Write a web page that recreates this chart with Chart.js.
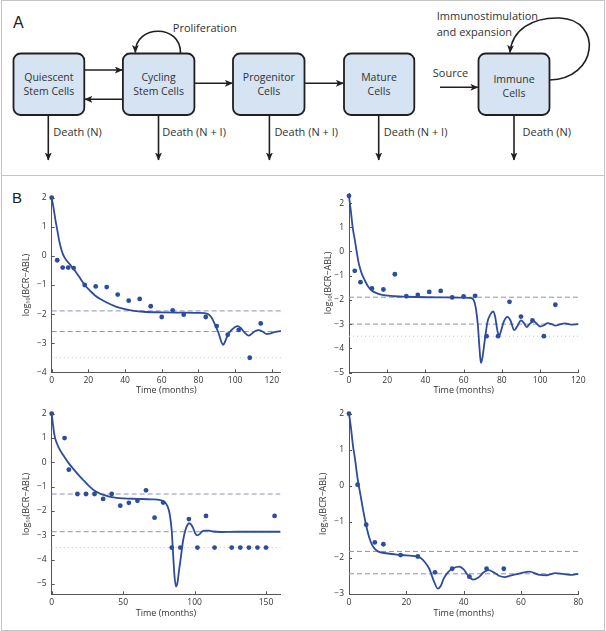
<!DOCTYPE html>
<html><head><meta charset="utf-8">
<script src="https://cdn.jsdelivr.net/npm/chart.js@4.4.1/dist/chart.umd.min.js"></script>
<style>
html,body{margin:0;padding:0;background:#fff;}
#fig{position:relative;width:606px;height:631px;overflow:hidden;background:#fff;}
svg{position:absolute;left:0;top:0;}
canvas{position:absolute;}
</style></head>
<body>
<div id="fig">
<svg width="606" height="631" font-family="'Open Sans', sans-serif">
<defs>
<marker id="ah" markerWidth="8" markerHeight="7" refX="7.5" refY="3.5" orient="auto" markerUnits="userSpaceOnUse"><path d="M0,0 L8,3.5 L0,7 L2,3.5 z" fill="#231f20"/></marker>
</defs>
<rect x="1.5" y="0.5" width="603" height="630" fill="none" stroke="#c4c4c4"/>
<line x1="1" y1="175.5" x2="605" y2="175.5" stroke="#c4c4c4"/>
<text x="13" y="28" font-family="'Liberation Sans', Arial, sans-serif" font-size="16" fill="#222">A</text>
<text x="12" y="203" font-family="'Liberation Sans', Arial, sans-serif" font-size="15" fill="#222">B</text>
<g fill="#d5e3f3" stroke="#231f20" stroke-width="1.8">
<rect x="13.5" y="53.5" width="70.8" height="61.5" rx="7"/>
<rect x="122.9" y="53.5" width="71.5" height="61.5" rx="7"/>
<rect x="233" y="53.5" width="71.5" height="61.5" rx="7"/>
<rect x="344" y="53.5" width="70.3" height="61.5" rx="7"/>
<rect x="478.5" y="53.5" width="71" height="61.5" rx="7"/>
</g>
<g stroke="#231f20" stroke-width="1.6" fill="none" marker-end="url(#ah)">
<line x1="84.3" y1="70" x2="122.3" y2="70"/>
<line x1="122.9" y1="99.3" x2="84.9" y2="99.3"/>
<line x1="194.4" y1="83.3" x2="232.4" y2="83.3"/>
<line x1="304.5" y1="83.3" x2="343.4" y2="83.3"/>
<line x1="440" y1="87.3" x2="477.9" y2="87.3"/>
<line x1="48.3" y1="115" x2="48.3" y2="160"/>
<line x1="158.5" y1="115" x2="158.5" y2="160"/>
<line x1="269.4" y1="115" x2="269.4" y2="160"/>
<line x1="378.7" y1="115" x2="378.7" y2="160"/>
<line x1="514" y1="115" x2="514" y2="160"/>
<path d="M180.5,53 C181,24 135.5,24 135.3,52.5"/>
<path d="M549.6,80 C598,79 603,20 560,18 C532,17 512,30 510,52.5"/>
</g>
<g font-size="10.5" fill="#333" text-anchor="middle">
<text x="48.9" y="80.8">Quiescent</text><text x="48.9" y="95.2">Stem Cells</text>
<text x="158.6" y="80.8">Cycling</text><text x="158.6" y="95.2">Stem Cells</text>
<text x="268.8" y="80.8">Progenitor</text><text x="268.8" y="95.2">Cells</text>
<text x="379" y="80.8">Mature</text><text x="379" y="95.2">Cells</text>
<text x="514" y="82.8">Immune</text><text x="514" y="96.8">Cells</text>
</g>
<g font-size="11" fill="#333">
<text x="53.3" y="136.3">Death (N)</text>
<text x="162.3" y="136.3">Death (N + I)</text>
<text x="274.4" y="136.3">Death (N + I)</text>
<text x="383.8" y="136.3">Death (N + I)</text>
<text x="522.5" y="136.3">Death (N)</text>
<text x="172.8" y="31.7">Proliferation</text>
<text x="436.7" y="19.7">Immunostimulation</text>
<text x="436.7" y="36.3">and expansion</text>
<text x="432.8" y="77">Source</text>
</g>
</svg>
<canvas id="c1" width="300" height="220" style="left:0px;top:180px;width:300px;height:220px"></canvas>
<canvas id="c2" width="300" height="220" style="left:303px;top:180px;width:300px;height:220px"></canvas>
<canvas id="c3" width="300" height="228" style="left:0px;top:400px;width:300px;height:228px"></canvas>
<canvas id="c4" width="300" height="228" style="left:303px;top:400px;width:300px;height:228px"></canvas>
</div>
<script>
// ---------- Panel 1 (top-left) ----------
const p1DataT = [0,3,6,9,12,18,24,30,36,42,48,54,60,66,72,84,90,96,102,108,114];
const p1DataY = [2,-0.15,-0.4,-0.4,-0.42,-1.0,-1.05,-1.07,-1.33,-1.54,-1.48,-1.73,-2.1,-1.87,-2.02,-2.1,-2.41,-2.71,-2.54,-3.5,-2.32];
const p1CurveT = [0,1,2,3,4,5,6,7,8,10,12,15,18,21,24,27,30,35,40,45,50,60,70,80,85,87,89,91,92.5,93.5,94.5,96,98,100,101.5,103,105,107.5,109,111,113,115,117,119,121,125];
const p1CurveY = [2,1.65,1.25,0.9,0.55,0.28,0.08,-0.05,-0.15,-0.3,-0.45,-0.72,-1.0,-1.2,-1.38,-1.5,-1.6,-1.74,-1.83,-1.89,-1.92,-1.94,-1.95,-1.96,-1.99,-2.1,-2.35,-2.65,-2.95,-3.06,-2.95,-2.72,-2.55,-2.44,-2.41,-2.47,-2.62,-2.74,-2.68,-2.58,-2.55,-2.6,-2.68,-2.67,-2.63,-2.58];
const p1Dashed = [-1.89,-2.6];
const p1Dotted = [-3.5];
const p1XTicks = [0,20,40,60,80,100,120];
const p1YTicks = [-4,-3,-2,-1,0,1,2];

// ---------- Panel 2 (top-right) ----------
const p2DataT = [0,3,6,12,18,24,30,36,42,48,54,60,66,72,78,84,90,96,102,108];
const p2DataY = [2.3,-0.8,-1.27,-1.53,-1.57,-0.94,-1.85,-1.79,-1.67,-1.63,-1.9,-1.86,-1.83,-3.5,-3.5,-2.08,-2.69,-2.85,-3.5,-2.2];
const p2CurveT = [0,1,2,3,4,5,6,7,8,10,12,15,18,24,30,40,50,60,64,65.5,66.5,67.5,68.3,69,69.8,71,72.5,74,75.5,76.5,77.5,78.5,79.5,81,83,84.5,86.5,88,90,91.5,93,94.5,96.5,98.5,100,102,104,106,108,110,113,116,120];
const p2CurveY = [2.3,1.65,0.95,0.5,0.0,-0.45,-0.75,-0.98,-1.15,-1.45,-1.62,-1.74,-1.8,-1.85,-1.87,-1.89,-1.9,-1.91,-1.93,-2.05,-2.4,-3.1,-4.0,-4.6,-4.4,-3.7,-2.9,-2.6,-2.48,-2.7,-3.2,-3.5,-3.3,-2.9,-2.7,-2.85,-3.25,-3.1,-2.85,-2.95,-3.12,-3.0,-2.88,-3.0,-3.1,-3.05,-2.96,-3.0,-3.06,-3.02,-2.97,-3.02,-3.0];
const p2Dashed = [-1.89,-3.0];
const p2Dotted = [-3.5];
const p2XTicks = [0,20,40,60,80,100,120];
const p2YTicks = [-5,-4,-3,-2,-1,0,1,2];

// ---------- Panel 3 (bottom-left) ----------
const p3DataT = [0,9,12,18,24,30,36,42,48,54,60,66,72,78,84,90,96,102,108,114,126,132,138,144,150,156];
const p3DataY = [2,1.0,-0.3,-1.3,-1.3,-1.3,-1.5,-1.3,-1.78,-1.66,-1.58,-1.15,-2.27,-1.65,-3.5,-3.5,-2.33,-3.5,-2.2,-3.5,-3.5,-3.5,-3.5,-3.5,-3.5,-2.2];
const p3CurveT = [0,1,2,3,5,8,12,16,20,24,27,30,34,38,42,50,60,70,76,79,81,82.5,84,85,86,87,88,89,90.5,92,93.5,95,96.3,97.5,99,100.5,102,103.5,105,107,110,113,118,130,160];
const p3CurveY = [2,1.5,1.1,0.88,0.6,0.3,-0.04,-0.33,-0.6,-0.84,-1.02,-1.17,-1.29,-1.37,-1.43,-1.48,-1.5,-1.52,-1.55,-1.62,-1.8,-2.1,-2.8,-3.8,-4.7,-5.1,-4.95,-4.5,-3.85,-3.2,-2.8,-2.57,-2.5,-2.55,-2.7,-2.92,-3.0,-2.95,-2.85,-2.8,-2.8,-2.84,-2.86,-2.85,-2.85];
const p3Dashed = [-1.3,-2.85];
const p3Dotted = [-3.5];
const p3XTicks = [0,50,100,150];
const p3YTicks = [-5,-4,-3,-2,-1,0,1,2];

// ---------- Panel 4 (bottom-right) ----------
const p4DataT = [0,3,6,9,12,18,24,30,36,42,48,54];
const p4DataY = [2,0.03,-1.08,-1.57,-1.62,-1.92,-1.96,-2.4,-2.3,-2.52,-2.3,-2.3];
const p4CurveT = [0,0.7,1.4,2,3,4,5,6,7,8,9,10.5,13,16,20,23,25,26.5,28,29.5,31,32,33,34.5,36.5,38.5,40,41.5,43.3,45,47,48.7,50.5,52.5,54.3,56,60,63,66,69,72,75,78,80];
const p4CurveY = [2,1.6,1.1,0.8,0.2,-0.25,-0.7,-1.1,-1.42,-1.63,-1.75,-1.83,-1.87,-1.9,-1.93,-1.95,-2.0,-2.12,-2.3,-2.62,-2.85,-2.78,-2.58,-2.4,-2.28,-2.24,-2.32,-2.48,-2.6,-2.55,-2.4,-2.34,-2.4,-2.5,-2.53,-2.5,-2.42,-2.38,-2.46,-2.48,-2.42,-2.45,-2.47,-2.44];
const p4Dashed = [-1.82,-2.44];
const p4Dotted = [];
const p4XTicks = [0,20,40,60,80];
const p4YTicks = [-3,-2,-1,0,1,2];

const BLUE = '#2d4c9c';
const DASH = '#8991c2';
const DOT = '#b4c0e2';
const AXIS = '#555555';
const TXT = '#333333';
const FONT = "'Open Sans', sans-serif";

const fmt = v => (v < 0 ? '\u2212' + Math.abs(v) : String(v));

const inTicks = {
  id: 'inTicks',
  afterDraw(chart) {
    const ctx = chart.ctx, xs = chart.scales.x, ys = chart.scales.y, a = chart.chartArea;
    ctx.save();
    ctx.strokeStyle = AXIS; ctx.lineWidth = 1;
    ctx.beginPath();
    xs.ticks.forEach(t => { const px = Math.round(xs.getPixelForValue(t.value)) + 0.5; ctx.moveTo(px, a.bottom); ctx.lineTo(px, a.bottom - 3); });
    ys.ticks.forEach(t => { const py = Math.round(ys.getPixelForValue(t.value)) + 0.5; ctx.moveTo(a.left, py); ctx.lineTo(a.left + 3, py); });
    ctx.stroke();
    ctx.restore();
  }
};

function pts(xs, ys) { return xs.map((x, i) => ({x: x, y: ys[i]})); }

function panel(id, c) {
  const ds = [];
  c.dashed.forEach(v => ds.push({data: [{x: c.xmin, y: v}, {x: c.xmax, y: v}], showLine: true, borderColor: DASH, borderWidth: 1, borderDash: [5, 3], pointRadius: 0, clip: false, order: 3}));
  c.dotted.forEach(v => ds.push({data: [{x: c.xmin, y: v}, {x: c.xmax, y: v}], showLine: true, borderColor: DOT, borderWidth: 1, borderDash: [1, 3], pointRadius: 0, clip: false, order: 3}));
  ds.push({data: pts(c.curveT, c.curveY), showLine: true, borderColor: BLUE, borderWidth: 1.8, pointRadius: 0, cubicInterpolationMode: 'monotone', clip: false, order: 2});
  ds.push({data: pts(c.dataT, c.dataY), showLine: false, backgroundColor: BLUE, borderColor: BLUE, borderWidth: 0, pointRadius: 2.4, clip: false, order: 1});
  new Chart(document.getElementById(id), {
    type: 'scatter',
    data: {datasets: ds},
    plugins: [inTicks],
    options: {
      responsive: false, animation: false, events: [],
      layout: {padding: {top: c.padTop, right: c.padRight, left: 0, bottom: 0}},
      plugins: {legend: {display: false}, tooltip: {enabled: false}},
      scales: {
        x: {type: 'linear', min: c.xmin, max: c.xmax,
          grid: {display: false, drawTicks: false}, border: {display: true, color: AXIS, width: 1},
          ticks: {font: {family: FONT, size: 8.5}, color: TXT, padding: 3, maxRotation: 0, autoSkip: false, callback: fmt},
          afterBuildTicks: s => { s.ticks = c.xTicks.map(v => ({value: v})); },
          afterFit: s => { s.height = c.xH; },
          title: {display: true, text: 'Time (months)', font: {family: FONT, size: 9}, color: TXT, padding: {top: 0, bottom: c.xTitlePad}}
        },
        y: {type: 'linear', min: c.ymin, max: c.ymax,
          grid: {display: false, drawTicks: false}, border: {display: true, color: AXIS, width: 1},
          ticks: {font: {family: FONT, size: 8.5}, color: TXT, padding: 5, autoSkip: false, callback: fmt},
          afterBuildTicks: s => { s.ticks = c.yTicks.map(v => ({value: v})); },
          afterFit: s => { s.width = c.yW; },
          title: {display: true, text: 'log\u2081\u2080(BCR\u2212ABL)', font: {family: FONT, size: 9}, color: TXT, padding: {top: c.yTitlePad, bottom: 0}}
        }
      }
    }
  });
}

panel('c1', {dataT: p1DataT, dataY: p1DataY, curveT: p1CurveT, curveY: p1CurveY, dashed: p1Dashed, dotted: p1Dotted, xTicks: p1XTicks, yTicks: p1YTicks,
  xmin: 0, xmax: 125, ymin: -4, ymax: 2, padTop: 17.7, padRight: 19.1, yW: 51.7, xH: 27.7, xTitlePad: 4.6, yTitlePad: 21.3});
panel('c2', {dataT: p2DataT, dataY: p2DataY, curveT: p2CurveT, curveY: p2CurveY, dashed: p2Dashed, dotted: p2Dotted, xTicks: p2XTicks, yTicks: p2YTicks,
  xmin: 0, xmax: 120, ymin: -5, ymax: 2.4, padTop: 13.4, padRight: 24.7, yW: 46, xH: 27.5, xTitlePad: 4.6, yTitlePad: 19.6});
panel('c3', {dataT: p3DataT, dataY: p3DataY, curveT: p3CurveT, curveY: p3CurveY, dashed: p3Dashed, dotted: p3Dotted, xTicks: p3XTicks, yTicks: p3YTicks,
  xmin: 0, xmax: 160, ymin: -5.42, ymax: 2, padTop: 13.7, padRight: 19.7, yW: 51.7, xH: 33.7, xTitlePad: 9.6, yTitlePad: 21.3});
panel('c4', {dataT: p4DataT, dataY: p4DataY, curveT: p4CurveT, curveY: p4CurveY, dashed: p4Dashed, dotted: p4Dotted, xTicks: p4XTicks, yTicks: p4YTicks,
  xmin: 0, xmax: 80, ymin: -3, ymax: 2, padTop: 13.7, padRight: 24.7, yW: 46, xH: 34, xTitlePad: 9.3, yTitlePad: 15.3});
</script>
</body></html>
